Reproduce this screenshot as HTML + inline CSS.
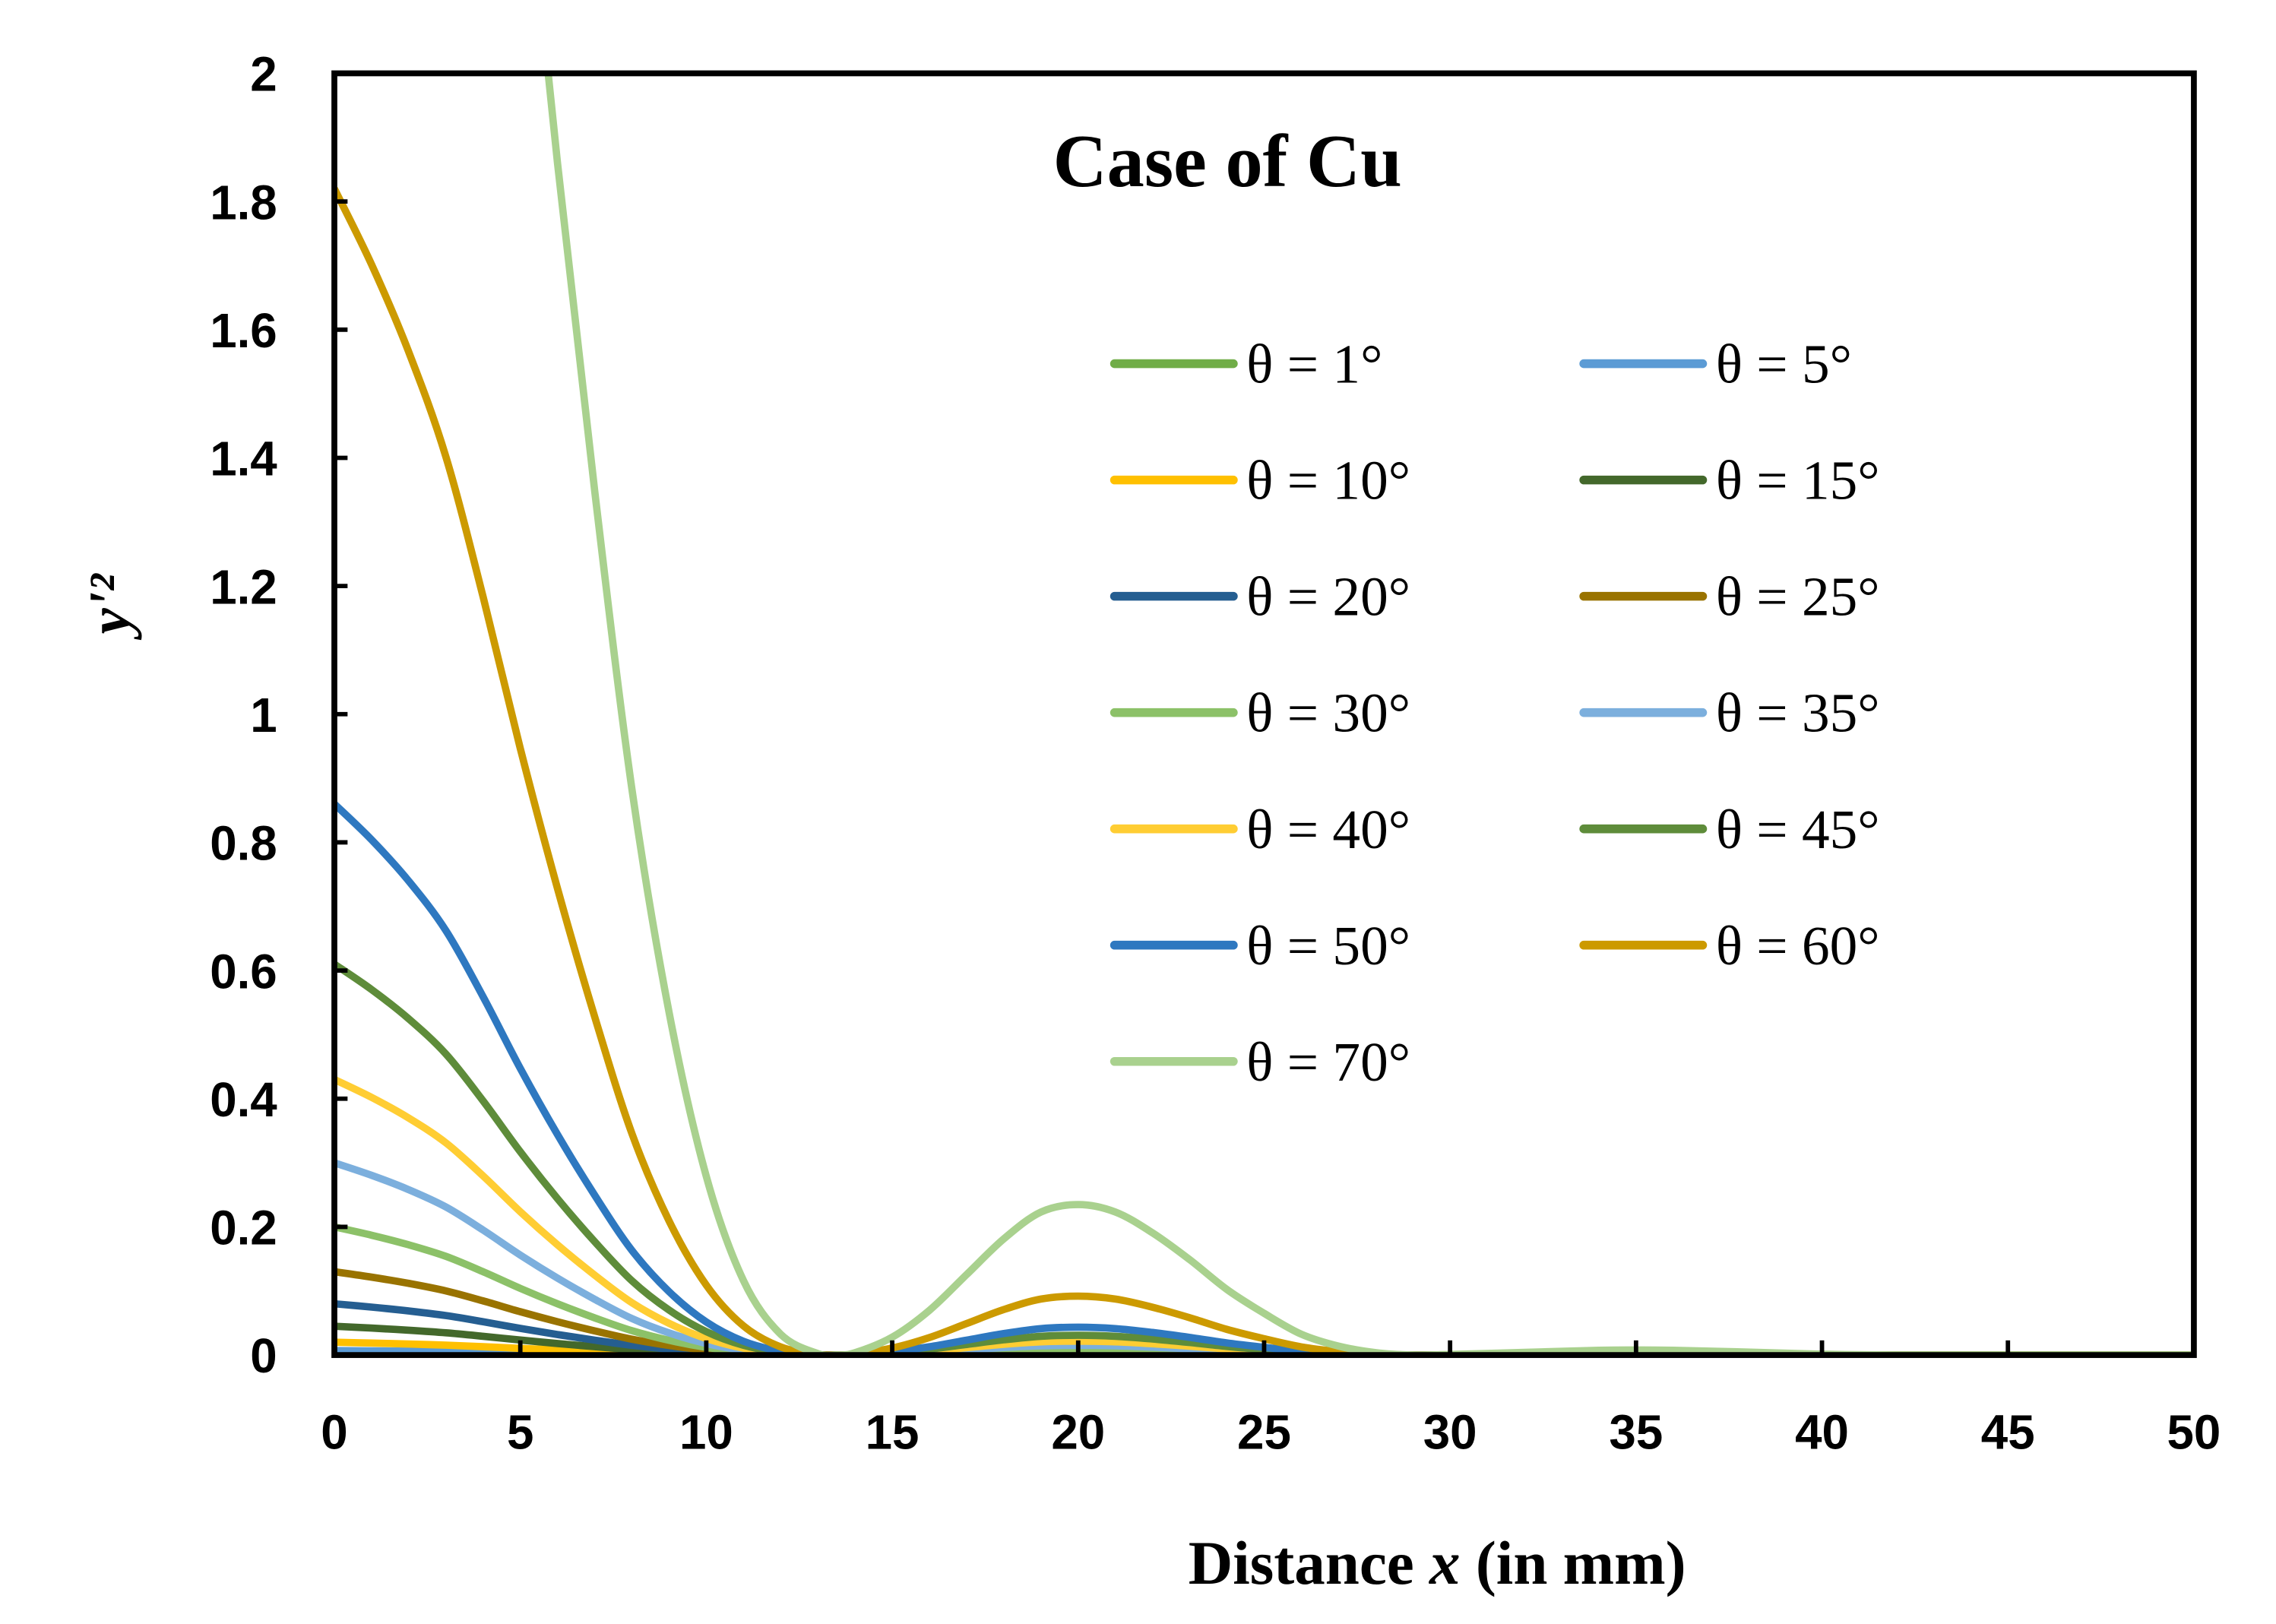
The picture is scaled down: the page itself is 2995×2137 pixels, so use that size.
<!DOCTYPE html>
<html><head><meta charset="utf-8"><style>
html,body{margin:0;padding:0;background:#fff;}
svg{display:block;}
</style></head><body>
<svg id="chart" width="2995" height="2137" viewBox="0 0 1552 1107.4" preserveAspectRatio="none" xmlns="http://www.w3.org/2000/svg">
<defs><clipPath id="plotclip"><rect x="228" y="50" width="1268" height="874"/></clipPath></defs>
<rect width="1552" height="1108" fill="#fff"/>
<g id="curves" clip-path="url(#plotclip)"></g>
<rect x="228" y="50" width="1268" height="874" fill="none" stroke="#000" stroke-width="4"/>
<g id="ticks"></g>
<text x="837" y="127" text-anchor="middle" font-family="Liberation Serif, serif" font-weight="bold" font-size="51">Case of Cu</text>
<text x="980" y="1080" text-anchor="middle" font-family="Liberation Serif, serif" font-weight="bold" font-size="42">Distance <tspan font-style="italic">x</tspan> (in mm)</text>
<text transform="translate(88,412) rotate(-90)" text-anchor="middle" font-family="Liberation Serif, serif" font-weight="bold" font-style="italic" font-size="40">y'²</text>
<g id="legend"></g>
</svg>
<script>
const NS='http://www.w3.org/2000/svg';
const shapeX=[0,1,2,3,4,5,6,7,8,9,10,11,12,13,13.5,14,15,16,17,18,19,20,21,22,23,24,25,26,27,28,29,30,32,34,35,36,38,40,42,45,50];
const shapeY=[1.00,0.935,0.86,0.77,0.65,0.52,0.40,0.29,0.19,0.115,0.06,0.025,0.007,0.0005,0,0.0008,0.006,0.015,0.027,0.039,0.048,0.0505,0.048,0.041,0.032,0.022,0.014,0.007,0.003,0.0008,0,0.0002,0.0009,0.0016,0.0017,0.0016,0.001,0.0003,0,0,0];
const seriesNames=['θ = 1°','θ = 5°','θ = 10°','θ = 15°','θ = 20°','θ = 25°','θ = 30°','θ = 35°','θ = 40°','θ = 45°','θ = 50°','θ = 60°','θ = 70°'];
const seriesAmp=[0.0004,0.007,0.02,0.045,0.08,0.13,0.20,0.30,0.43,0.61,0.86,1.82,4.65];
const seriesColors=['#70AD47','#5B9BD5','#FFC000','#43682B','#255E91','#997300','#8CC168','#7CAFDD','#FFCD33','#5E8C3A','#2E78C0','#CC9A00','#A9D18E'];
const xTicks=[0,5,10,15,20,25,30,35,40,45,50];
const yTicks=[0,0.2,0.4,0.6,0.8,1,1.2,1.4,1.6,1.8,2];
const X0=228,X1=1496,YT=50,YB=924;
const sx=v=>X0+(v-0)/(50-0)*(X1-X0);
const sy=v=>YB-(v/2)*(YB-YT);
function pathFor(pts){
  let d='M'+pts[0][0].toFixed(2)+','+pts[0][1].toFixed(2);
  for(let i=0;i<pts.length-1;i++){
    const p0=pts[Math.max(0,i-1)],p1=pts[i],p2=pts[i+1],p3=pts[Math.min(pts.length-1,i+2)];
    const c1=[p1[0]+(p2[0]-p0[0])/6,p1[1]+(p2[1]-p0[1])/6];
    const c2=[p2[0]-(p3[0]-p1[0])/6,p2[1]-(p3[1]-p1[1])/6];
    d+='C'+c1[0].toFixed(2)+','+c1[1].toFixed(2)+' '+c2[0].toFixed(2)+','+c2[1].toFixed(2)+' '+p2[0].toFixed(2)+','+p2[1].toFixed(2);
  }
  return d;
}
const cg=document.getElementById('curves');
seriesNames.forEach((n,i)=>{
  const pts=shapeX.map((x,k)=>[sx(x),sy(seriesAmp[i]*shapeY[k])]);
  const p=document.createElementNS(NS,'path');
  p.setAttribute('d',pathFor(pts));
  p.setAttribute('fill','none');p.setAttribute('stroke',seriesColors[i]);
  p.setAttribute('stroke-width','5');p.setAttribute('stroke-linejoin','round');
  
  
  cg.appendChild(p);
});
const tg=document.getElementById('ticks');
yTicks.forEach(v=>{
  const l=document.createElementNS(NS,'line');
  l.setAttribute('x1',X0);l.setAttribute('x2',X0+9);l.setAttribute('y1',sy(v));l.setAttribute('y2',sy(v));
  l.setAttribute('stroke','#000');l.setAttribute('stroke-width','3');
  
  
  tg.appendChild(l);
  const t=document.createElementNS(NS,'text');
  t.setAttribute('x',189);t.setAttribute('y',sy(v)+12);t.setAttribute('text-anchor','end');
  t.setAttribute('font-family','Liberation Sans, sans-serif');t.setAttribute('font-weight','bold');t.setAttribute('font-size','33');
  t.textContent=String(v);
  
  
  tg.appendChild(t);
});
xTicks.forEach(v=>{
  const l=document.createElementNS(NS,'line');
  l.setAttribute('x1',sx(v));l.setAttribute('x2',sx(v));l.setAttribute('y1',YB);l.setAttribute('y2',YB-10);
  l.setAttribute('stroke','#000');l.setAttribute('stroke-width','3');
  
  
  tg.appendChild(l);
  const t=document.createElementNS(NS,'text');
  t.setAttribute('x',sx(v));t.setAttribute('y',988);t.setAttribute('text-anchor','middle');
  t.setAttribute('font-family','Liberation Sans, sans-serif');t.setAttribute('font-weight','bold');t.setAttribute('font-size','33');
  t.textContent=String(v);
  
  
  tg.appendChild(t);
});
const lg=document.getElementById('legend');
seriesNames.forEach((n,i)=>{
  const col=i%2,row=Math.floor(i/2);
  const lx=col?1077:757,ty=248+row*79.3;
  const g=document.createElementNS(NS,'g');
  
  
  const l=document.createElementNS(NS,'line');
  l.setAttribute('x1',lx+3);l.setAttribute('x2',lx+84);l.setAttribute('y1',ty);l.setAttribute('y2',ty);
  l.setAttribute('stroke',seriesColors[i]);l.setAttribute('stroke-width','6');l.setAttribute('stroke-linecap','round');
  
  
  g.appendChild(l);
  const t=document.createElementNS(NS,'text');
  t.setAttribute('x',lx+93);t.setAttribute('y',ty+13);
  t.setAttribute('font-family','Liberation Serif, serif');t.setAttribute('font-size','38');
  t.textContent=n;
  
  
  g.appendChild(t);
  lg.appendChild(g);
});
</script>
</body></html>
